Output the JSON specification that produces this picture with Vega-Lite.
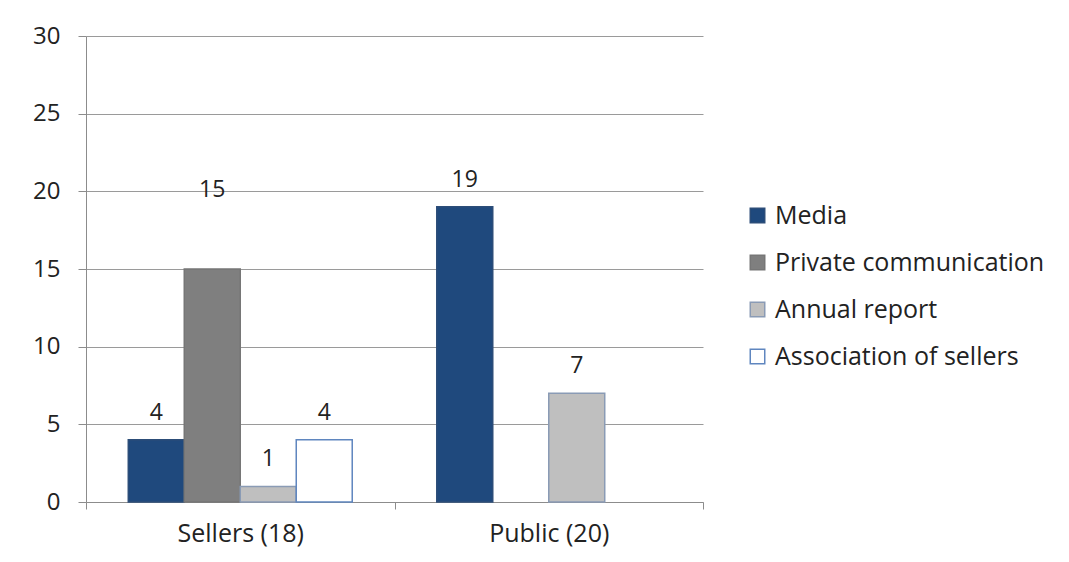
{
  "$schema": "https://vega.github.io/schema/vega-lite/v6.json",
  "width": 617,
  "height": 466,
  "autosize": "none",
  "padding": {"left": 86, "top": 36, "right": 366, "bottom": 60},
  "background": "white",
  "config": {
    "font": "Open Sans",
    "view": {"stroke": null},
    "axis": {"labelFont": "Open Sans", "labelColor": "#222222", "domainColor": "#8c8c8c", "tickColor": "#8c8c8c", "gridColor": "#9a9a9a"}
  },
  "data": {
    "values": [
      {"group": "Sellers (18)", "source": "Media", "value": 4},
      {"group": "Sellers (18)", "source": "Private communication", "value": 15},
      {"group": "Sellers (18)", "source": "Annual report", "value": 1},
      {"group": "Sellers (18)", "source": "Association of sellers", "value": 4},
      {"group": "Public (20)", "source": "Media", "value": 19},
      {"group": "Public (20)", "source": "Private communication", "value": 0},
      {"group": "Public (20)", "source": "Annual report", "value": 7},
      {"group": "Public (20)", "source": "Association of sellers", "value": 0}
    ]
  },
  "encoding": {
    "x": {
      "field": "group", "type": "nominal", "sort": ["Sellers (18)", "Public (20)"],
      "scale": {"paddingInner": 0, "paddingOuter": 0},
      "axis": {"title": null, "labelAngle": 0, "labelFontSize": 25, "labelPadding": 12, "tickBand": "extent", "tickSize": 7, "grid": false}
    },
    "xOffset": {
      "field": "source", "type": "nominal",
      "scale": {"domain": ["Media", "Private communication", "Annual report", "Association of sellers"], "paddingInner": 0, "paddingOuter": 0.755}
    },
    "y": {
      "field": "value", "type": "quantitative",
      "scale": {"domain": [0, 30]},
      "axis": {"title": null, "values": [0, 5, 10, 15, 20, 25, 30], "labelFontSize": 24, "labelPadding": 18, "tickSize": 8, "grid": true, "domain": true}
    }
  },
  "layer": [
    {
      "transform": [{"filter": "datum.value > 0"}],
      "mark": {"type": "bar", "strokeWidth": 1.5},
      "encoding": {
        "color": {
          "field": "source", "type": "nominal",
          "scale": {"domain": ["Media", "Private communication", "Annual report", "Association of sellers"], "range": ["#1f497d", "#7f7f7f", "#bfbfbf", "#ffffff"]},
          "legend": {
            "title": null, "orient": "none", "legendX": 659, "legendY": 167,
            "symbolType": "square", "symbolSize": 210, "labelFontSize": 25, "labelColor": "#222222",
            "rowPadding": 21, "labelOffset": 5, "labelLimit": 400, "symbolStrokeWidth": 1.5
          }
        },
        "stroke": {
          "field": "source", "type": "nominal",
          "scale": {"domain": ["Media", "Private communication", "Annual report", "Association of sellers"], "range": ["#2c4d78", "#767676", "#8a9bb5", "#5f86bf"]},
          "legend": {
            "title": null, "orient": "none", "legendX": 659, "legendY": 167,
            "symbolType": "square", "symbolSize": 210, "labelFontSize": 25, "labelColor": "#222222",
            "rowPadding": 21, "labelOffset": 5, "labelLimit": 400, "symbolStrokeWidth": 1.5
          }
        }
      }
    },
    {
      "transform": [{"filter": "datum.value > 0 && datum.value != 15"}],
      "mark": {"type": "text", "baseline": "middle", "dy": -27, "fontSize": 23, "color": "#222222"},
      "encoding": {"text": {"field": "value", "type": "quantitative"}}
    },
    {
      "transform": [{"filter": "datum.value == 15"}],
      "mark": {"type": "text", "baseline": "middle", "dy": -79, "fontSize": 23, "color": "#222222"},
      "encoding": {"text": {"field": "value", "type": "quantitative"}}
    }
  ]
}
